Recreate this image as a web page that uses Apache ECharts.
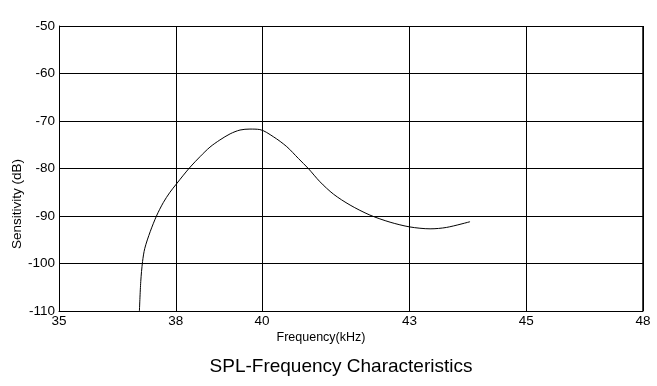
<!DOCTYPE html>
<html>
<head>
<meta charset="utf-8">
<script src="https://cdn.jsdelivr.net/npm/echarts@6/dist/echarts.min.js"></script>
<style>html,body{margin:0;padding:0;background:#fff;}#c{width:657px;height:386px;}</style>
</head>
<body>
<div id="c"></div>
<script>
// Frequency positions along the (linear) plot axis and sensitivity values
const freq = [36.79, 36.82, 36.86, 36.91, 37.03, 37.17, 37.32, 37.47, 37.61, 37.77, 37.92, 38.14, 38.36, 38.58, 38.81, 39.03, 39.25, 39.47, 39.77, 40.07, 40.33, 40.55, 40.81, 41.11, 41.48, 41.92, 42.37, 42.81, 43.26, 43.63, 44.15];
const sens = [-110, -103.8, -99.6, -96.8, -93.3, -90.0, -87.2, -85.0, -83.3, -81.4, -79.7, -77.5, -75.5, -74.0, -72.7, -71.9, -71.7, -71.8, -73.3, -75.4, -77.9, -80.0, -82.8, -85.4, -87.7, -89.8, -91.3, -92.3, -92.7, -92.4, -91.2];
// x tick positions (as drawn in the original) and their printed labels
const xTickPos = [35, 37.6, 39.52, 42.8, 45.4, 48];
const xTickLabels = ['35', '38', '40', '43', '45', '48'];

const chart = echarts.init(document.getElementById('c'), null, {renderer: 'canvas'});
const font = 'Arial, "Liberation Sans", sans-serif';
chart.setOption({
  animation: false,
  backgroundColor: '#fff',
  grid: {left: 59, right: 14, top: 26, bottom: 75, show: false},
  xAxis: {
    type: 'value', min: 35, max: 48,
    axisLine: {show: true, lineStyle: {color: '#000', width: 1}},
    axisTick: {show: false, customValues: xTickPos},
    splitLine: {show: true, lineStyle: {color: '#000', width: 1}},
    axisLabel: {
      customValues: xTickPos, color: '#000', fontFamily: font, fontSize: 13.5, margin: 3,
      formatter: function (v) {
        const i = xTickPos.findIndex(p => Math.abs(p - v) < 1e-6);
        return i >= 0 ? xTickLabels[i] : '';
      }
    }
  },
  yAxis: {
    type: 'value', min: -110, max: -50, interval: 10,
    axisLine: {show: true, lineStyle: {color: '#000', width: 1}},
    axisTick: {show: false},
    splitLine: {show: true, lineStyle: {color: '#000', width: 1}},
    axisLabel: {color: '#000', fontFamily: font, fontSize: 13.5, margin: 4}
  },
  graphic: [
    {type: 'rect', shape: {x: 643, y: 26, width: 0, height: 285}, style: {stroke: '#000', lineWidth: 1, fill: null}, silent: true},
    {type: 'text', x: 321, y: 338, style: {text: 'Frequency(kHz)', font: '12.5px ' + font, fill: '#000', textAlign: 'center', textVerticalAlign: 'middle'}},
    {type: 'text', x: 341, y: 367, style: {text: 'SPL-Frequency Characteristics', font: '19px ' + font, fill: '#000', textAlign: 'center', textVerticalAlign: 'middle'}},
    {type: 'text', x: 17, y: 204, rotation: Math.PI / 2, style: {text: 'Sensitivity (dB)', font: '13.5px ' + font, fill: '#000', textAlign: 'center', textVerticalAlign: 'middle'}}
  ],
  series: [{
    type: 'line',
    data: freq.map((f, i) => [f, sens[i]]),
    smooth: 0.3,
    showSymbol: false,
    lineStyle: {color: '#000', width: 1}
  }]
});
</script>
</body>
</html>
